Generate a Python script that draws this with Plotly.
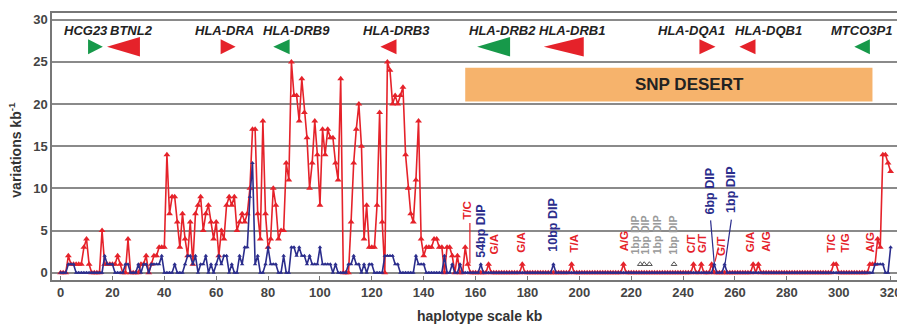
import numpy as np
import plotly.graph_objects as go

# ---------------- data ----------------
# variations per kb, 1-kb windows from 0 to 160 kb
red_dense = [
    0, 0, 0, 2, 1, 1, 1, 1, 1, 3,
    4, 1, 0, 0, 0, 0, 5, 1, 1, 1,
    1, 1, 2, 1, 0, 0, 4, 0, 0, 0,
    0, 1, 1, 2, 0, 1, 2, 2, 3, 3,
    3, 14, 7, 9, 9, 6, 3, 7, 4, 2,
    6, 1, 7, 8, 9, 5, 7, 8, 6, 4,
    6, 2, 5, 4, 8, 9, 8, 9, 5, 6,
    7, 6, 7, 10, 17, 17, 7, 4, 18, 7,
    3, 4, 10, 8, 4, 5, 5, 13, 11, 25,
    21, 21, 18, 23, 19, 16, 10, 13, 18, 14,
    8, 17, 14, 17, 16, 16, 13, 11, 23, 0,
    0, 0, 6, 13, 17, 20, 15, 4, 8, 3,
    3, 3, 8, 19, 6, 0, 25, 24, 20, 21,
    20, 21, 22, 14, 10, 7, 6, 11, 18, 4,
    2, 3, 3, 3, 4, 4, 3, 3, 0, 3,
    3, 2, 0, 2, 0, 0, 3, 1, 0, 0,
    0,
]
blue_dense = [
    0, 0, 0, 1, 1, 1, 0, 0, 0, 0,
    0, 0, 0, 0, 0, 0, 0, 2, 1, 1,
    1, 0, 0, 0, 0, 1, 1, 0, 0, 0,
    1, 0, 1, 1, 0, 1, 1, 1, 1, 2,
    0, 0, 0, 0, 1, 0, 0, 0, 1, 2,
    2, 1, 2, 0, 1, 1, 2, 0, 1, 0,
    1, 2, 1, 2, 2, 0, 1, 0, 0, 2,
    1, 3, 3, 9, 13, 1, 2, 0, 0, 1,
    3, 1, 1, 1, 0, 0, 2, 0, 0, 3,
    3, 2, 3, 2, 2, 1, 2, 1, 1, 1,
    3, 1, 1, 1, 1, 0, 1, 0, 0, 0,
    0, 1, 1, 2, 1, 1, 0, 1, 0, 1,
    1, 0, 0, 0, 0, 2, 2, 2, 2, 1,
    1, 0, 0, 0, 0, 0, 0, 2, 1, 1,
    1, 0, 0, 0, 0, 0, 0, 0, 2, 0,
    0, 1, 0, 0, 1, 0, 0, 0, 0, 0,
    0,
]
# sparse values in the SNP desert and beyond (other windows are 0)
red_tail_kb = [165, 178, 197, 217, 244, 247, 251, 267, 269, 298, 299, 312,
               313, 314, 315, 316, 317, 318, 319, 320]
red_tail_val = [1, 1, 1, 1, 1, 1, 1, 1, 1, 1, 1, 1,
                1, 1, 4, 3, 14, 14, 13, 12]
blue_tail_kb = [162, 190, 252, 256, 314, 315, 316, 317, 320]
blue_tail_val = [1, 1, 1, 1, 1, 1, 1, 1, 3]
gray_dip_kb = [223.5, 225, 227, 236.5]
gray_dip_val = [1, 1, 1, 1]

# genes
gene_names = ["HCG23", "BTNL2", "HLA-DRA", "HLA-DRB9", "HLA-DRB3",
              "HLA-DRB2", "HLA-DRB1", "HLA-DQA1", "HLA-DQB1", "MTCO3P1"]
gene_start = [10.6, 17.9, 61.7, 82.0, 123.3, 160.6, 186.3, 246.3, 261.7, 306.0]
gene_end = [16.3, 30.6, 67.5, 88.3, 129.5, 173.3, 201.7, 252.5, 267.9, 312.0]
gene_dir = [1, -1, 1, -1, -1, -1, -1, 1, -1, -1]
gene_green = [True, False, False, True, False, True, False, False, False, True]
gene_big = [False, True, False, False, False, True, True, False, False, False]
gene_label_kb = [9.8, 27.4, 63.3, 91.0, 129.4, 170.2, 197.1, 243.3, 272.9, 308.7]

desert_start, desert_end = 156, 313
desert_low, desert_high = 20.3, 24.3

# variant labels below the curves
var_text = ["T/C", "54bp DIP", "G/A", "G/A", "10bp DIP", "T/A", "A/G",
            "1bp DIP", "1bp DIP", "1bp DIP", "1bp DIP", "C/T", "G/T",
            "6bp DIP", "G/T", "1bp DIP", "G/A", "A/G", "T/C", "T/G", "A/G"]
var_kb = [156.7, 162.0, 167.0, 177.4, 190.0, 198.0, 217.0,
          221.6, 225.5, 230.0, 236.3, 243.3, 247.5,
          250.0, 254.6, 258.5, 265.8, 272.0, 297.0, 302.4, 312.0]
var_base = [6.0, 1.5, 1.9, 2.1, 2.3, 2.1, 2.3,
            1.9, 1.9, 1.9, 1.9, 2.1, 2.1,
            6.6, 1.8, 6.8, 2.2, 2.2, 2.2, 2.2, 2.2]
var_kind = ["r", "b", "r", "r", "b", "r", "r",
            "g", "g", "g", "g", "r", "r",
            "b", "r", "b", "r", "r", "r", "r", "r"]

# leader lines (x0, y0, x1, y1)
lead_x0 = [157.8, 250.6, 258.6, 253.6]
lead_y0 = [5.9, 6.2, 6.3, 3.0]
lead_x1 = [157.8, 252.0, 256.2, 252.3]
lead_y1 = [1.1, 1.1, 1.1, 1.3]
lead_kind = ["r", "b", "b", "r"]

# ---------------- build ----------------
RED = "#E5222A"
BLUE = "#2B2D8C"
GREEN = "#17994A"
GRAY = "#9A9A9A"
colors = {"r": RED, "b": BLUE, "g": GRAY}
label_size = {"r": 11.5, "b": 12.5, "g": 10.5}

kb = np.arange(0, 321)
red = np.zeros(321)
red[:len(red_dense)] = red_dense
red[red_tail_kb] = red_tail_val
blue = np.zeros(321)
blue[:len(blue_dense)] = blue_dense
blue[blue_tail_kb] = blue_tail_val

fig = go.Figure()

# SNP desert box
fig.add_shape(type="rect", x0=desert_start, x1=desert_end, y0=desert_low, y1=desert_high,
              fillcolor="#F6B36C", line=dict(width=0), layer="below")
fig.add_annotation(x=(desert_start + desert_end) / 2 + 8, y=(desert_low + desert_high) / 2,
                   text="<b>SNP DESERT</b>", showarrow=False,
                   font=dict(size=17, color="#222222", family="Liberation Sans, Arial"))

# gene triangles
yc = 26.8
for i, name in enumerate(gene_names):
    h = 1.15 if gene_big[i] else 0.9
    s, e = gene_start[i], gene_end[i]
    if gene_dir[i] > 0:
        xs = [s, s, e, s]
        ys = [yc - h, yc + h, yc, yc - h]
    else:
        xs = [e, e, s, e]
        ys = [yc - h, yc + h, yc, yc - h]
    col = GREEN if gene_green[i] else RED
    fig.add_trace(go.Scatter(x=xs, y=ys, fill="toself", fillcolor=col, mode="lines",
                             line=dict(width=0, color=col), hoverinfo="skip", showlegend=False))
    fig.add_annotation(x=gene_label_kb[i], y=28.7, text="<b><i>%s</i></b>" % name,
                       showarrow=False,
                       font=dict(size=13, color="#222222", family="Liberation Sans, Arial"))

# series
fig.add_trace(go.Scatter(x=kb, y=red, mode="lines+markers",
                         line=dict(color=RED, width=1.6),
                         marker=dict(symbol="triangle-up", size=6, color=RED),
                         showlegend=False))
fig.add_trace(go.Scatter(x=kb, y=blue, mode="lines+markers",
                         line=dict(color=BLUE, width=1.6),
                         marker=dict(symbol="triangle-up", size=4, color=BLUE),
                         showlegend=False))
fig.add_trace(go.Scatter(x=gray_dip_kb, y=gray_dip_val, mode="markers",
                         marker=dict(symbol="triangle-up-open", size=5, color="#555555"),
                         showlegend=False))

# leader lines
for i in range(len(lead_x0)):
    fig.add_shape(type="line", x0=lead_x0[i], y0=lead_y0[i], x1=lead_x1[i], y1=lead_y1[i],
                  line=dict(color=colors[lead_kind[i]], width=1.2))

# variant labels
for t, x, b, k in zip(var_text, var_kb, var_base, var_kind):
    fig.add_annotation(x=x, y=b, text="<b>%s</b>" % t, showarrow=False, textangle=-90,
                       xanchor="center", yanchor="bottom",
                       font=dict(size=label_size[k], color=colors[k],
                                 family="Liberation Sans, Arial"))

# axis titles
fig.add_annotation(xref="paper", yref="paper", x=-0.043, y=0.49,
                   text="<b>variations kb<sup>-1</sup></b>", textangle=-90, showarrow=False,
                   xanchor="center", yanchor="middle",
                   font=dict(size=14, color="#333333", family="Liberation Sans, Arial"))
fig.add_annotation(xref="paper", yref="paper", x=0.503, y=-0.135,
                   text="<b>haplotype scale kb</b>", showarrow=False,
                   xanchor="center", yanchor="middle",
                   font=dict(size=14, color="#333333", family="Liberation Sans, Arial"))

# page body has an 8px margin, so the figure is 8px smaller and margins shifted
fig.update_layout(
    width=897, height=317,
    margin=dict(l=44, r=2, t=5, b=45),
    plot_bgcolor="white", paper_bgcolor="white",
    font=dict(family="Liberation Sans, Arial", color="#333333"),
    xaxis=dict(range=[-3.3, 324], tickmode="array", tickvals=list(range(0, 321, 20)),
               ticktext=["<b>%d</b>" % v for v in range(0, 321, 20)],
               tickfont=dict(size=13, color="#444444"),
               showgrid=False, zeroline=False, showline=True, mirror=True,
               linecolor="#777777", linewidth=1.5, ticks="inside", ticklen=4,
               tickcolor="#777777"),
    yaxis=dict(range=[-0.87, 30.8], tickmode="array", tickvals=list(range(0, 31, 5)),
               ticktext=["<b>%d</b>" % v for v in range(0, 31, 5)],
               tickfont=dict(size=13, color="#444444"),
               showgrid=True, gridcolor="#8A8A8A", gridwidth=1.5,
               zeroline=False, showline=True, mirror=True,
               linecolor="#777777", linewidth=1.5, ticks=""),
)

fig.write_html("out.html")
